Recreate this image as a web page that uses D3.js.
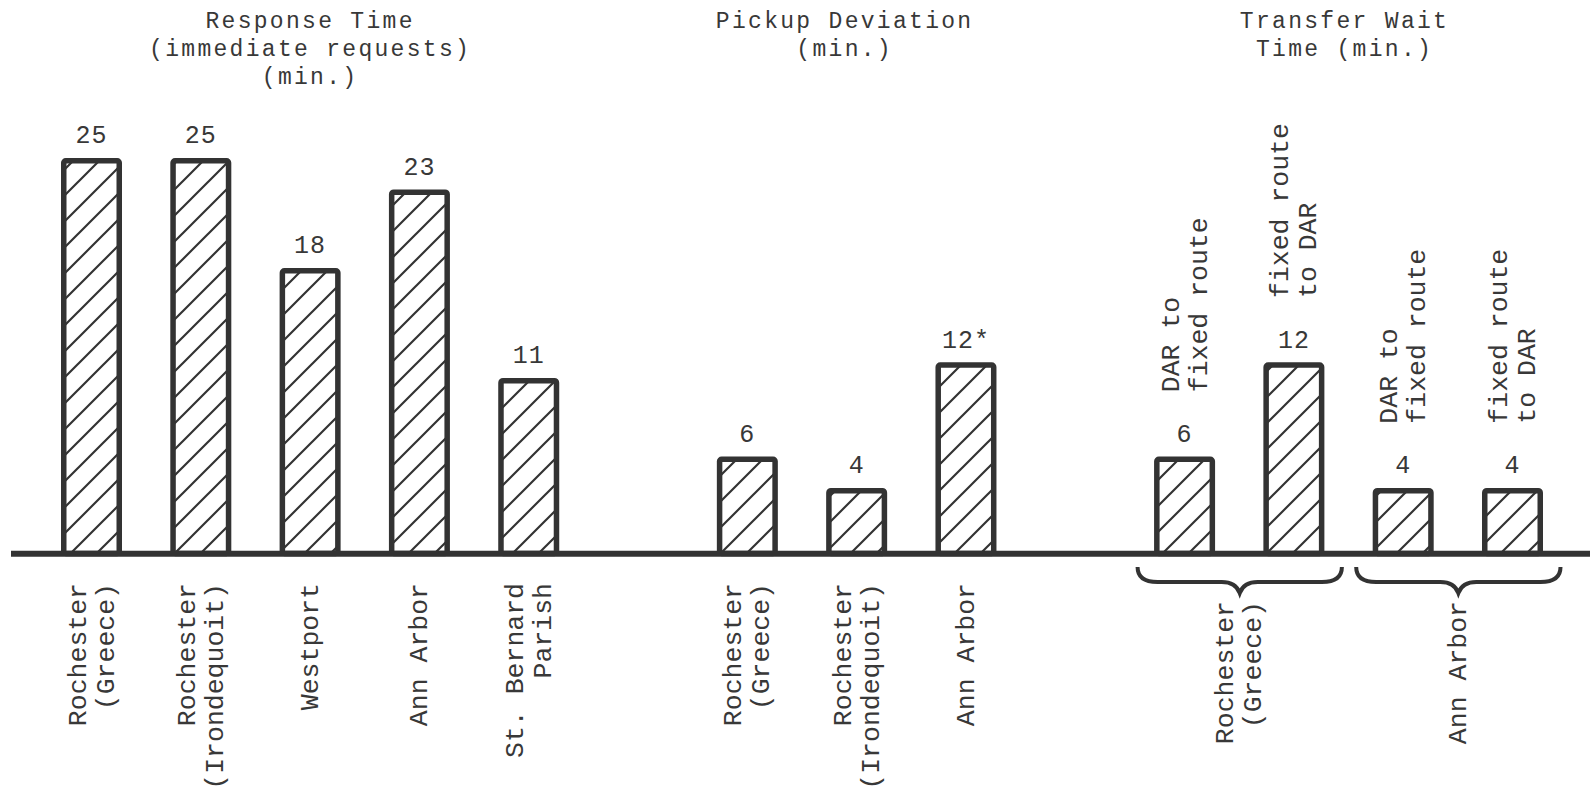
<!DOCTYPE html>
<html lang="en">
<head>
<meta charset="UTF-8" />
<title>Response time, pickup deviation and transfer wait</title>
<style>
    body, html {
        margin: 0;
        padding: 0;
        background: #fff;
        overflow: hidden;
    }
    svg {
        display: block;
        background: #fff;
    }
    text {
        font-family: "Liberation Mono", "DejaVu Sans Mono", monospace;
        fill: #383838;
    }
    .title { font-size: 23px; letter-spacing: 2.3px; }
    .value { font-size: 25px; letter-spacing: 1px; }
    .vlabel { font-size: 26.5px; }
</style>
</head>
<body>
<svg id="chart" width="1590" height="793"></svg>

<script src="https://d3js.org/d3.v7.min.js"></script>
<script>
    // panel headings, one array of lines per panel
    const panelTitles = [
        ["Response Time", "(immediate requests)", "(min.)"],
        ["Pickup Deviation", "(min.)"],
        ["Transfer Wait", "Time (min.)"]
    ];

    // response time, immediate requests (min.)
    const responseSites = [
        ["Rochester", "(Greece)"],
        ["Rochester", "(Irondequoit)"],
        ["Westport"],
        ["Ann Arbor"],
        ["St. Bernard", "Parish"]
    ];
    const responseValues = [25, 25, 18, 23, 11];

    // pickup deviation (min.)
    const pickupSites = [
        ["Rochester", "(Greece)"],
        ["Rochester", "(Irondequoit)"],
        ["Ann Arbor"]
    ];
    const pickupValues = [6, 4, 12];
    const pickupMarks = ["", "", "*"];

    // transfer wait time (min.), two legs per site
    const transferSites = [["Rochester", "(Greece)"], ["Ann Arbor"]];
    const transferLegs = [["DAR to", "fixed route"], ["fixed route", "to DAR"]];
    const transferValues = [[6, 12], [4, 4]];

    // lay bars out on one slot grid, one empty slot between panels
    const bars = [];
    const braces = [];
    const panelSlots = [];
    let slot = 0;

    panelSlots.push(slot);
    responseValues.forEach((v, i) => bars.push({ slot: slot++, value: v, mark: "", label: responseSites[i] }));
    panelSlots.push(slot - 1);
    slot++;

    panelSlots.push(slot);
    pickupValues.forEach((v, i) => bars.push({ slot: slot++, value: v, mark: pickupMarks[i], label: pickupSites[i] }));
    panelSlots.push(slot - 1);
    slot++;

    panelSlots.push(slot);
    transferValues.forEach((pair, s) => {
        const first = slot;
        pair.forEach((v, j) => bars.push({ slot: slot++, value: v, mark: "", leg: transferLegs[j] }));
        braces.push({ from: first, to: slot - 1, label: transferSites[s] });
    });
    panelSlots.push(slot - 1);

    const svg = d3.select("#chart");

    const x = d3.scaleLinear().domain([0, slot - 1]).range([91.5, 1512.5]);
    const y = d3.scaleLinear().domain([0, 25]).range([553.5, 160.8]);
    const barW = 55.5;
    const ink = "#333";

    // diagonal hatching
    const pat = svg.append("defs").append("pattern")
        .attr("id", "hatch")
        .attr("patternUnits", "userSpaceOnUse")
        .attr("width", 26)
        .attr("height", 26);
    pat.append("path")
        .attr("d", "M-6.5,6.5 L6.5,-6.5 M0,26 L26,0 M19.5,32.5 L32.5,19.5")
        .attr("stroke", ink)
        .attr("stroke-width", 2.2);

    // bars
    svg.append("g").selectAll("rect")
        .data(bars)
        .join("rect")
        .attr("x", d => x(d.slot) - barW / 2)
        .attr("width", barW)
        .attr("y", d => y(d.value))
        .attr("height", d => y(0) - y(d.value))
        .attr("rx", 2)
        .attr("fill", "url(#hatch)")
        .attr("stroke", ink)
        .attr("stroke-width", 5.5);

    // base line
    svg.append("line")
        .attr("x1", 11).attr("x2", 1590)
        .attr("y1", y(0) + 0.2).attr("y2", y(0) + 0.2)
        .attr("stroke", ink)
        .attr("stroke-width", 6);

    // value labels
    svg.append("g").selectAll("text")
        .data(bars)
        .join("text")
        .attr("class", "value")
        .attr("x", d => x(d.slot))
        .attr("y", d => y(d.value) - 17.5)
        .attr("text-anchor", "middle")
        .text(d => d.value + d.mark);

    // panel titles
    const titleShift = [0, -12, -4];
    panelTitles.forEach((lines, p) => {
        const cx = (x(panelSlots[p * 2]) + x(panelSlots[p * 2 + 1])) / 2 + titleShift[p];
        const t = svg.append("text")
            .attr("class", "title")
            .attr("text-anchor", "middle");
        lines.forEach((s, i) => {
            t.append("tspan").attr("x", cx).attr("y", 28 + i * 28).text(s);
        });
    });

    // vertical (rotated) labels
    const vg = svg.append("g");
    function vLabel(cx, yAnchor, lines, anchor) {
        const n = lines.length;
        lines.forEach((s, i) => {
            vg.append("text")
                .attr("class", "vlabel")
                .attr("transform", `translate(${cx + 8 + (i - (n - 1) / 2) * 28},${yAnchor}) rotate(-90)`)
                .attr("text-anchor", anchor)
                .text(s);
        });
    }

    bars.filter(d => d.label).forEach(d => vLabel(x(d.slot), 583, d.label, "end"));
    bars.filter(d => d.leg).forEach(d => vLabel(x(d.slot), y(d.value) - 67, d.leg, "start"));

    // braces under the transfer pairs
    function bracePath(l, r, top, mid, tip) {
        const m = (l + r) / 2;
        return `M${l},${top} Q${l},${mid} ${l + 20},${mid} L${m - 18},${mid} ` +
            `Q${m - 4},${mid} ${m},${tip} Q${m + 4},${mid} ${m + 18},${mid} ` +
            `L${r - 20},${mid} Q${r},${mid} ${r},${top}`;
    }

    braces.forEach(b => {
        const l = x(b.from) - 47;
        const r = x(b.to) + 48;
        svg.append("path")
            .attr("d", bracePath(l, r, 567, 582, 593))
            .attr("fill", "none")
            .attr("stroke", ink)
            .attr("stroke-width", 4);
        vLabel((x(b.from) + x(b.to)) / 2, 601, b.label, "end");
    });
</script>
</body>
</html>
